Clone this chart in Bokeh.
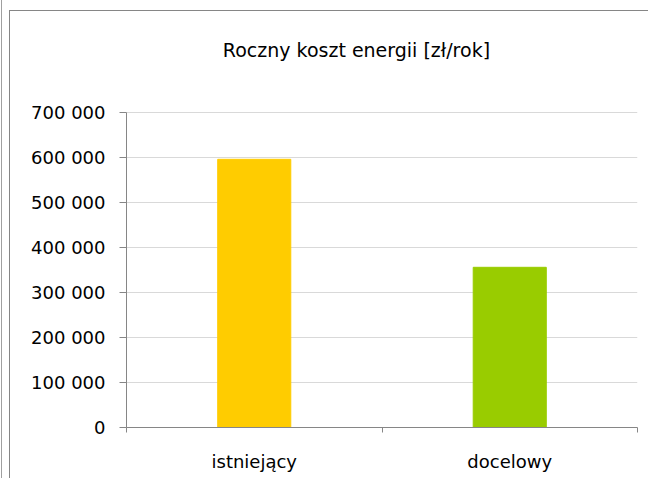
from bokeh.plotting import figure
from bokeh.layouts import column
from bokeh.models import (ColumnDataSource, Range1d, LinearAxis, FixedTicker,
                          Label)
from bokeh.embed import file_html
from bokeh.resources import INLINE

title_text = "Roczny koszt energii [zł/rok]"
categories = ["istniejący", "docelowy"]
values = [596000, 356000]
colors = ["#FFCC00", "#99CC00"]
y_ticks = [0, 100000, 200000, 300000, 400000, 500000, 600000, 700000]
y_tick_labels = ["0", "100 000", "200 000", "300 000", "400 000", "500 000",
                 "600 000", "700 000"]

FONT = "DejaVu Sans"
xs = [i + 0.5 for i in range(len(categories))]
src = ColumnDataSource(dict(x=xs, top=values, color=colors, cat=categories))

# y range extends above the top tick so the title sits inside the plot area
y_top = 922222

p = figure(width=639, height=468, output_backend="svg", toolbar_location=None,
           x_range=Range1d(0, len(categories)), y_range=Range1d(0, y_top),
           x_axis_location=None, y_axis_location=None,
           min_border_left=116, min_border_right=12, min_border_top=1,
           min_border_bottom=52)
p.outline_line_color = None
p.background_fill_color = "white"
p.border_fill_color = "white"
p.styles = {"margin-left": "7px", "margin-top": "10px",
            "border-left": "1px solid #868686",
            "border-top": "1px solid #868686"}

p.vbar(x="x", top="top", width=0.286, color="color", source=src)

# y axis
yax = LinearAxis(ticker=FixedTicker(ticks=y_ticks), bounds=(0, 700000))
yax.major_label_overrides = {t: l for t, l in zip(y_ticks, y_tick_labels)}
yax.axis_line_color = "#868686"
yax.major_tick_line_color = "#868686"
yax.major_tick_out = 7
yax.major_tick_in = 0
yax.minor_tick_line_color = None
yax.major_label_text_font = FONT
yax.major_label_text_font_size = "18px"
yax.major_label_text_color = "black"
yax.major_label_standoff = 14
p.add_layout(yax, "left")

# x axis: boundary ticks
xax = LinearAxis(ticker=FixedTicker(ticks=list(range(len(categories) + 1))))
xax.axis_line_color = "#868686"
xax.major_tick_line_color = "#868686"
xax.major_tick_out = 5
xax.major_tick_in = 0
xax.minor_tick_line_color = None
xax.major_label_text_font_size = "0px"
xax.major_label_text_color = None
xax.major_label_standoff = 0
p.add_layout(xax, "below")

# x axis: category labels
xlab = LinearAxis(ticker=FixedTicker(ticks=xs))
xlab.major_label_overrides = {x: c for x, c in zip(xs, categories)}
xlab.axis_line_color = None
xlab.major_tick_line_color = None
xlab.minor_tick_line_color = None
xlab.major_label_text_font = FONT
xlab.major_label_text_font_size = "18px"
xlab.major_label_text_color = "black"
xlab.major_label_standoff = 12
p.add_layout(xlab, "below")

p.xgrid.visible = False
p.ygrid.grid_line_color = "#d9d9d9"
p.ygrid.ticker = FixedTicker(ticks=y_ticks[1:])

p.add_layout(Label(x=0.9, y=837778, text=title_text, text_align="center",
                   text_baseline="middle", text_font=FONT,
                   text_font_size="19px", text_color="black"))

page = column(p, styles={"margin-left": "1px",
                         "border-left": "1px solid #a0a0a0"})

open("out.html", "w").write(file_html(page, INLINE))
